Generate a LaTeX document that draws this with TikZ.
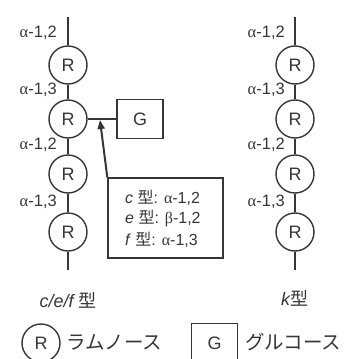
\documentclass[tikz,border=0pt]{standalone}
\usepackage{fontspec}
\setmainfont{Liberation Sans}
\newfontfamily\jp{Noto Sans CJK JP}
\newfontfamily\grk{Liberation Serif}
\usetikzlibrary{arrows.meta}
\definecolor{ink}{HTML}{363636}
\tikzset{
  rnode/.style={circle, draw=ink, line width=1.4pt, minimum size=38pt, inner sep=0pt,
                font=\fontsize{18}{18}\selectfont, text=ink},
  gnode/.style={rectangle, draw=ink, line width=1.4pt, minimum width=46pt, minimum height=39pt,
                inner sep=0pt, font=\fontsize{18}{18}\selectfont, text=ink},
  link/.style={draw=ink, line width=1.4pt},
  bond/.style={anchor=east, inner sep=0pt, font=\fontsize{16.5}{16.5}\selectfont, text=ink},
  infobox/.style={rectangle, draw=ink, line width=1.4pt, minimum width=115pt, minimum height=80pt,
                  inner sep=0pt},
  infotext/.style={anchor=west, inner sep=0pt, font=\fontsize{16}{16}\selectfont, text=ink},
  typelabel/.style={inner sep=0pt, font=\fontsize{18}{18}\selectfont, text=ink},
  legendtext/.style={anchor=west, inner sep=0pt, font=\jp\fontsize{19.5}{19.5}\selectfont, text=ink},
}
\newcommand{\al}{{\grk α}}
\newcommand{\be}{{\grk β}}
\newcommand{\kata}{{\jp 型}}
\begin{document}
\begin{tikzpicture}[x=1pt, y=-1pt]
  \useasboundingbox (0,0) rectangle (344,359);

  % left chain (c/e/f types)
  \coordinate (ltop) at (68,17);
  \coordinate (lbot) at (68,270);
  \node[rnode] (l1) at (68,65) {R};
  \node[rnode] (l2) at (68,119) {R};
  \node[rnode] (l3) at (68,174) {R};
  \node[rnode] (l4) at (68,232) {R};
  \draw[link] (ltop) -- (l1) -- (l2) -- (l3) -- (l4) -- (lbot);
  \node[bond] (lb1) at (57,33) {\al-1,2};
  \node[bond] (lb2) at (57,90) {\al-1,3};
  \node[bond] (lb3) at (57,145) {\al-1,2};
  \node[bond] (lb4) at (57,202) {\al-1,3};

  % glucose branch
  \node[gnode] (g) at (140,119) {G};
  \draw[link] (l2) -- (g);
  \coordinate (branch) at (100,120);

  % linkage types of the branch
  \node[infobox] (info) at (165.5,218) {};
  \node[infotext] (t1) at (125,198) {\textit{c} \kata: \al-1,2};
  \node[infotext] (t2) at (125,219) {\textit{e} \kata: \be-1,2};
  \node[infotext] (t3) at (125,240) {\textit{f} \kata: \al-1,3};
  \draw[draw=ink, line width=2pt, -{Triangle[length=9pt, width=7pt]}] (info.north west) -- (branch);

  % right chain (k type)
  \coordinate (rtop) at (295,17);
  \coordinate (rbot) at (295,270);
  \node[rnode] (r1) at (295,65) {R};
  \node[rnode] (r2) at (295,119) {R};
  \node[rnode] (r3) at (295,174) {R};
  \node[rnode] (r4) at (295,232) {R};
  \draw[link] (rtop) -- (r1) -- (r2) -- (r3) -- (r4) -- (rbot);
  \node[bond] (rb1) at (285,33) {\al-1,2};
  \node[bond] (rb2) at (285,90) {\al-1,3};
  \node[bond] (rb3) at (285,145) {\al-1,2};
  \node[bond] (rb4) at (285,202) {\al-1,3};

  % type captions
  \node[typelabel] (cap1) at (68,300) {\textit{c/e/f}\,\kata};
  \node[typelabel] (cap2) at (295,298) {\textit{k}\kata};

  % legend
  \node[rnode] (lr) at (41,343) {R};
  \node[legendtext] (lrt) at (66,342) {ラムノース};
  \node[gnode] (lg) at (214.5,343) {G};
  \node[legendtext] (lgt) at (245,342) {グルコース};
\end{tikzpicture}
\end{document}
